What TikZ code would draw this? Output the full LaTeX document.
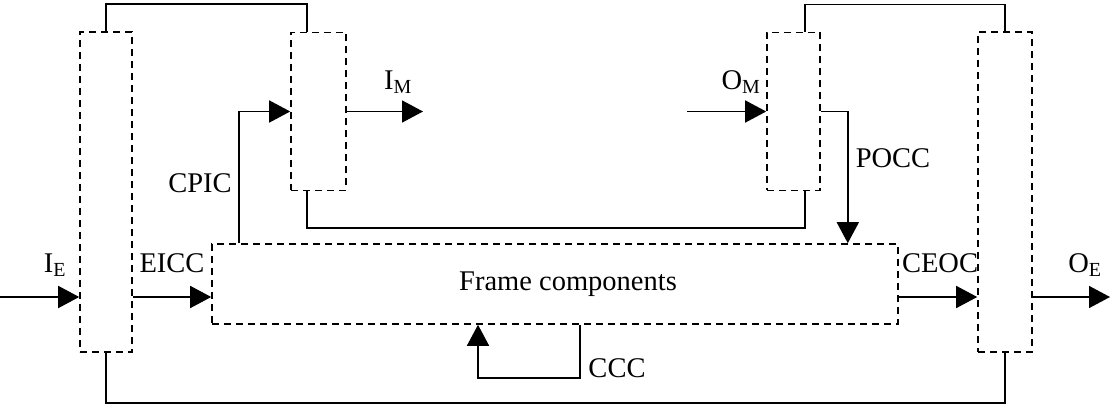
\documentclass[tikz,border=0pt]{standalone}
\usepackage{fontspec}
\setmainfont{Liberation Serif}
\usepackage{tikz}
\usetikzlibrary{arrows.meta}

\begin{document}
\begin{tikzpicture}[x=1pt, y=-1pt,
  dbox/.style={draw, dash pattern=on 7pt off 5pt, line width=1.6pt, inner sep=0pt},
  conn/.style={line width=1.6pt},
  arr/.style={conn, -{Triangle[length=21pt,width=22pt]}},
  lbl/.style={font=\fontsize{28.5}{33}\selectfont, inner sep=0pt}]
\useasboundingbox (0,0) rectangle (1115,419);
% boxes
\node[dbox, minimum width=52pt, minimum height=320pt] (ein) at (106,192) {};
\node[dbox, minimum width=55pt, minimum height=158pt] (min) at (318.5,111.5) {};
\node[dbox, minimum width=53pt, minimum height=158pt] (mout) at (793.5,111.5) {};
\node[dbox, minimum width=54pt, minimum height=320pt] (eout) at (1005,192) {};
\node[dbox, minimum width=686pt, minimum height=80pt] (frame) at (555,284) {};
\node[lbl] (framelbl) at ([xshift=13pt]frame.center) {Frame components};
% free ends
\coordinate (lvl) at (0,297);
\coordinate (iein) at (0,297);
\coordinate (oeout) at (1110,297);
\coordinate (imout) at (423,111.5);
\coordinate (omin) at (687,111.5);
% plain links
\draw[conn] (ein.north) -- ++(0,-27) -| ([xshift=-11.5pt]min.north);
\draw[conn] ([xshift=11.5pt]mout.north) -- ++(0,-27) -| (eout.north);
\draw[conn] ([xshift=-11.5pt]min.south) -- ++(0,37) -| ([xshift=11.5pt]mout.south);
\draw[conn] (ein.south) -- ++(0,50) -| (eout.south);
% arrows
\draw[arr] (iein) -- (ein.west |- lvl);
\draw[arr] (ein.east |- lvl) -- (frame.west |- lvl);
\draw[arr] ([xshift=28pt]frame.north west) |- (min.west);
\draw[arr] (min.east) -- (imout);
\draw[arr] (omin) -- (mout.west);
\draw[arr] (mout.east) -| ([xshift=-51pt]frame.north east);
\draw[arr] (frame.east |- lvl) -- (eout.west |- lvl);
\draw[arr] (eout.east |- lvl) -- (oeout);
\draw[arr] ([xshift=25pt]frame.south) -- ++(0,53) -| ([xshift=-77pt]frame.south);
% labels
\node[lbl] (ielbl) at (55,265) {I\textsubscript{E}};
\node[lbl] (eicclbl) at (172,263) {EICC};
\node[lbl] (cpiclbl) at (200,183) {CPIC};
\node[lbl] (imlbl) at (398,82) {I\textsubscript{M}};
\node[lbl] (omlbl) at (741,82) {O\textsubscript{M}};
\node[lbl] (pocclbl) at (893,158) {POCC};
\node[lbl] (ceoclbl) at (940,263) {CEOC};
\node[lbl] (oelbl) at (1085,265) {O\textsubscript{E}};
\node[lbl] (ccclbl) at (617,368) {CCC};
\end{tikzpicture}
\end{document}
